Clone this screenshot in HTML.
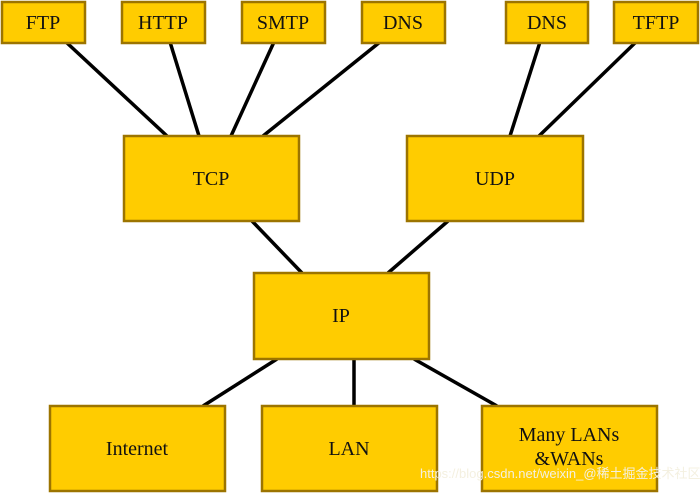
<!DOCTYPE html>
<html><head><style>
body{margin:0;background:#fff;}
svg{display:block}
text{font-family:"Liberation Serif",serif;font-size:20px;fill:#111;text-anchor:middle;}
rect{fill:#FFCC00;stroke:#9C7400;stroke-width:2.5;}
line{stroke:#000;stroke-width:3.5;}
</style></head><body>
<svg width="700" height="495" viewBox="0 0 700 495">
<line x1="66" y1="42" x2="167" y2="136"/>
<line x1="170" y1="42" x2="199" y2="136"/>
<line x1="274" y1="42" x2="231" y2="136"/>
<line x1="380" y1="42" x2="263" y2="136"/>
<line x1="540" y1="42" x2="510" y2="136"/>
<line x1="636" y1="42" x2="539" y2="136"/>
<line x1="252" y1="221" x2="302" y2="273"/>
<line x1="448" y1="221" x2="388" y2="273"/>
<line x1="277" y1="359" x2="203" y2="406"/>
<line x1="354" y1="359" x2="354" y2="406"/>
<line x1="414" y1="359" x2="497" y2="406"/>
<rect x="2" y="2" width="83" height="41"/><text x="43" y="29">FTP</text>
<rect x="122" y="2" width="83" height="41"/><text x="163" y="29">HTTP</text>
<rect x="242" y="2" width="83" height="41"/><text x="283" y="29">SMTP</text>
<rect x="362" y="2" width="83" height="41"/><text x="403" y="29">DNS</text>
<rect x="506" y="2" width="82" height="41"/><text x="547" y="29">DNS</text>
<rect x="614" y="2" width="84" height="41"/><text x="656" y="29">TFTP</text>
<rect x="124" y="136" width="175" height="85"/><text x="211" y="185">TCP</text>
<rect x="407" y="136" width="176" height="85"/><text x="495" y="185">UDP</text>
<rect x="254" y="273" width="175" height="86"/><text x="341" y="322">IP</text>
<rect x="50" y="406" width="175" height="85"/><text x="137" y="455">Internet</text>
<rect x="262" y="406" width="175" height="85"/><text x="349" y="455">LAN</text>
<rect x="482" y="406" width="175" height="85"/><text x="569" y="441">Many LANs</text><text x="569" y="465">&amp;WANs</text>
<text x="420" y="478" style="font-family:'Liberation Sans','Noto Sans CJK SC',sans-serif;font-size:13px;fill:#f4f0e0;text-anchor:start">https://blog.csdn.net/weixin_@稀土掘金技术社区</text>
</svg>
</body></html>
